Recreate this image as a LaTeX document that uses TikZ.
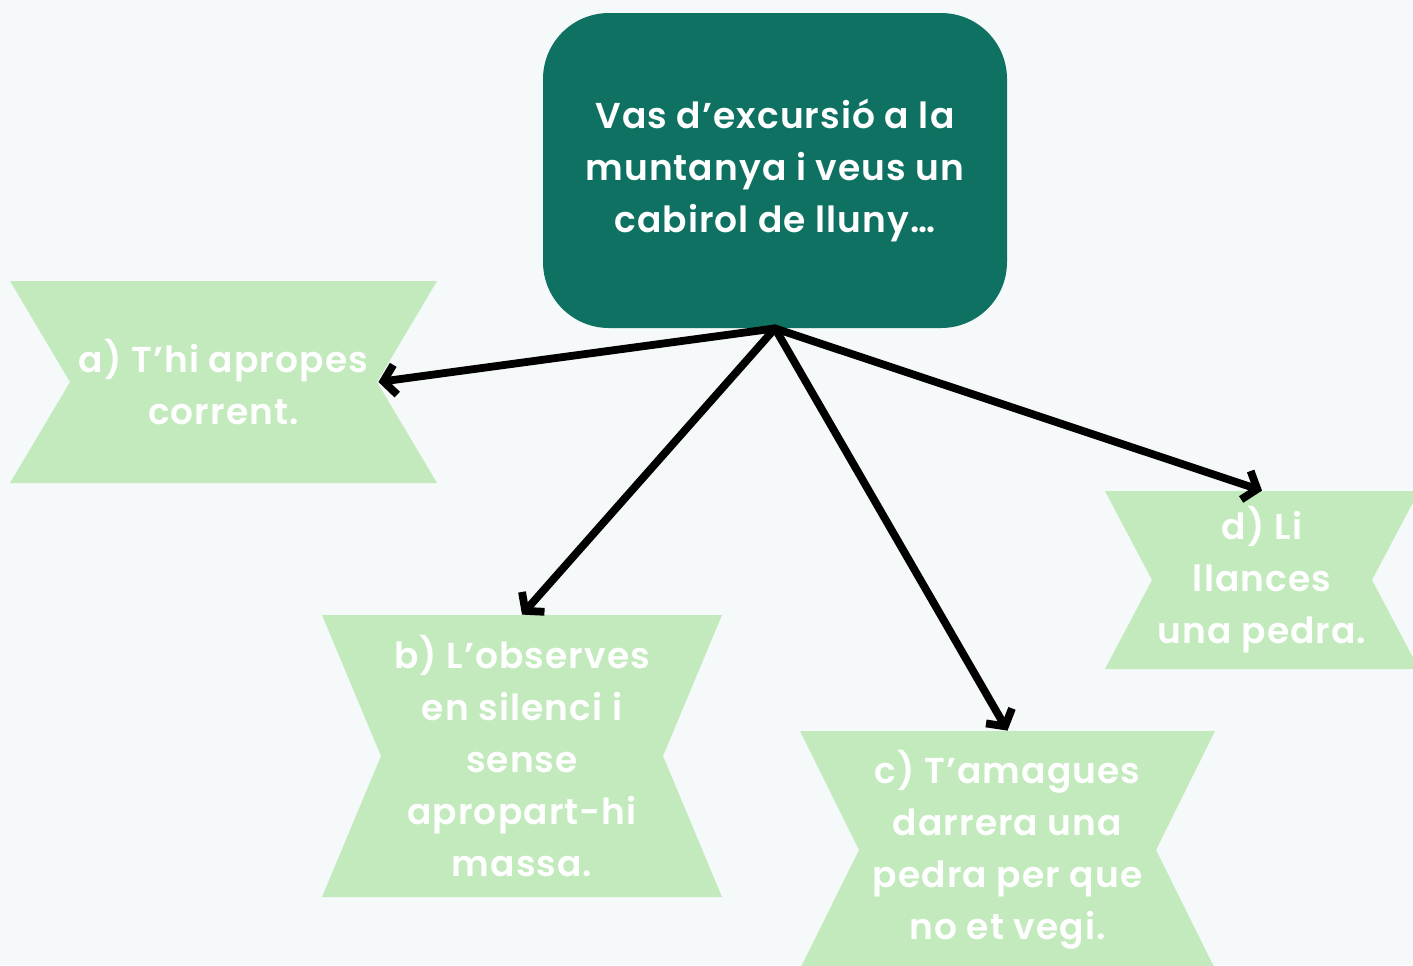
\documentclass[tikz,border=0pt]{standalone}
\usepackage{fontspec}
\usepackage{xcolor}
\usepackage{tikz}
\usetikzlibrary{arrows.meta, positioning}
\IfFontExistsTF{Poppins SemiBold}
  {\newfontfamily\labelfont{Poppins SemiBold}[LetterSpace=3]}
  {\setmainfont{Poppins}[LetterSpace=3]\newcommand\labelfont{\bfseries}}

\definecolor{pagebg}{HTML}{F5F9FA}
\definecolor{topteal}{HTML}{0E7162}
\definecolor{ribbongreen}{HTML}{C2EABD}

\tikzset{
  boxtext/.style={text=white, align=center, inner sep=0pt,
    font=\labelfont\fontsize{18}{26}\selectfont},
  question/.style={boxtext, rounded corners=33pt, fill=topteal,
    minimum width=232pt, minimum height=157.5pt},
  choice/.style={boxtext, fill=pagebg,
    path picture={\fill[ribbongreen] (path picture bounding box.north west)
      -- (path picture bounding box.north east)
      -- ([xshift=-#1]path picture bounding box.east)
      -- (path picture bounding box.south east)
      -- (path picture bounding box.south west)
      -- ([xshift=#1]path picture bounding box.west) -- cycle;}},
  link/.style={line width=3.9pt, line cap=round, line join=round,
    -{Straight Barb[length=6pt,width=15pt]}}
}

\begin{document}
\begin{tikzpicture}[x=0.5pt,y=-0.5pt]
          \useasboundingbox (0,0) rectangle (1413,965);
          \fill[pagebg] (0,0) rectangle (1413,965);

          \node[question] (scene) at (775,170.5) {Vas d’excursió a la\\muntanya i veus un\\cabirol de lluny…};

          \node[choice=30pt, minimum width=213.5pt, minimum height=101pt] (a) at (223.5,382) {a) T’hi apropes\\corrent.};
          \node[choice=29.5pt, minimum width=200pt, minimum height=141pt] (b) at (522,756) {b) L’observes\\en silenci i\\sense\\apropart-hi\\massa.};
          \node[choice=29.5pt, minimum width=207.5pt, minimum height=119pt] (c) at (1007.5,850) {c) T’amagues\\darrera una\\pedra per que\\no et vegi.};
          \node[choice=23.5pt, minimum width=157pt, minimum height=89pt] (d) at (1262,580) {d) Li\\llances\\una pedra.};

          \draw[link] (scene.south) -- ([xshift=-29.5pt]a.east);
          \draw[link] (scene.south) -- (b.north);
          \draw[link] (scene.south) -- (c.north);
          \draw[link] (scene.south) -- (d.north);
\end{tikzpicture}
\end{document}
